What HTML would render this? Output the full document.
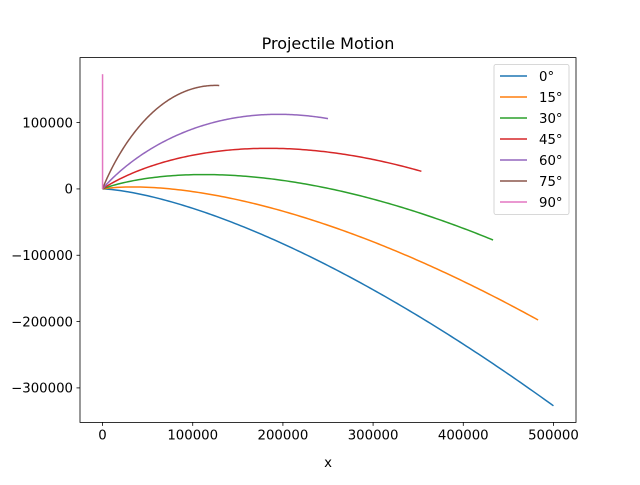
<!DOCTYPE html>
<html><head><meta charset="utf-8"><style>
body{margin:0;background:#fff}
svg text{font-family:"DejaVu Sans","Liberation Sans",sans-serif;fill:#000}
</style></head><body>
<svg id="chart" width="640" height="480" viewBox="0 0 640 480" xmlns="http://www.w3.org/2000/svg">
<rect width="640" height="480" fill="#fff"/>
<text x="328" y="49" font-size="16" text-anchor="middle">Projectile Motion</text>
<text x="328" y="467" font-size="13.3" text-anchor="middle">x</text>
<g id="plot"></g>
<rect x="80" y="57.6" width="496" height="364.8" fill="none" stroke="#000" stroke-width="0.8"/>
<g id="legend"></g>
</svg>
<script>
const angles = [0, 15, 30, 45, 60, 75, 90];
const seriesLabels = ["0°", "15°", "30°", "45°", "60°", "75°", "90°"];
const colors = ["#1f77b4","#ff7f0e","#2ca02c","#d62728","#9467bd","#8c564b","#e377c2"];
const launchRange = 500000;
const dropAtEnd = 327000;
const dropExponent = 1.5;
const xTicks = [0, 100000, 200000, 300000, 400000, 500000];
const yTicks = [-300000, -200000, -100000, 0, 100000];
const xDomain = [-25000, 525000];
const yDomain = [-352000, 198000];

const L=80,R=576,T=57.6,B=422.4;
const NS="http://www.w3.org/2000/svg";
function sx(v){return L+(v-xDomain[0])/(xDomain[1]-xDomain[0])*(R-L);}
function sy(v){return B-(v-yDomain[0])/(yDomain[1]-yDomain[0])*(B-T);}
function mk(tag,attrs,parent){const e=document.createElementNS(NS,tag);for(const k in attrs)e.setAttribute(k,attrs[k]);parent.appendChild(e);return e;}
const plot=document.getElementById('plot');
const svg=document.getElementById('chart');
xTicks.forEach(t=>{
  const x=sx(t);
  const l=mk('line',{x1:x,x2:x,y1:B,y2:B+3.5,stroke:'#000','stroke-width':0.8},svg);
  
  
  const tx=mk('text',{x:x,y:B+17,'font-size':13.3,'text-anchor':'middle'},svg);
  tx.textContent=String(t);
  
  
});
yTicks.forEach(t=>{
  const y=sy(t);
  const l=mk('line',{x1:L-3.5,x2:L,y1:y,y2:y,stroke:'#000','stroke-width':0.8},svg);
  
  
  const tx=mk('text',{x:L-7,y:y+4.8,'font-size':13.3,'text-anchor':'end'},svg);
  tx.textContent=(t<0?'\u2212':'')+Math.abs(t);
  
  
});
angles.forEach((a,i)=>{
  const r=a*Math.PI/180;
  const pts=[];
  for(let k=0;k<=150;k++){
    const s=k/150;
    const x=launchRange*Math.cos(r)*s;
    const y=launchRange*Math.sin(r)*s-dropAtEnd*Math.pow(s,dropExponent);
    pts.push(sx(x).toFixed(2)+','+sy(y).toFixed(2));
  }
  const p=mk('polyline',{points:pts.join(' '),fill:'none',stroke:colors[i],'stroke-width':1.5},plot);
  
  
});
const lg=document.getElementById('legend');
const box=mk('rect',{x:494,y:64.5,width:75,height:150,rx:2,fill:'#fff','fill-opacity':0.8,stroke:'#ccc','stroke-width':0.8},lg);


seriesLabels.forEach((s,i)=>{
  const y=76+i*21;
  const g=mk('g',{},lg);
  
  
  mk('line',{x1:500,x2:527,y1:y,y2:y,stroke:colors[i],'stroke-width':1.5},g);
  const tx=mk('text',{x:539,y:y+4.8,'font-size':13.3},g);
  tx.textContent=s;
});
</script>
</body></html>
